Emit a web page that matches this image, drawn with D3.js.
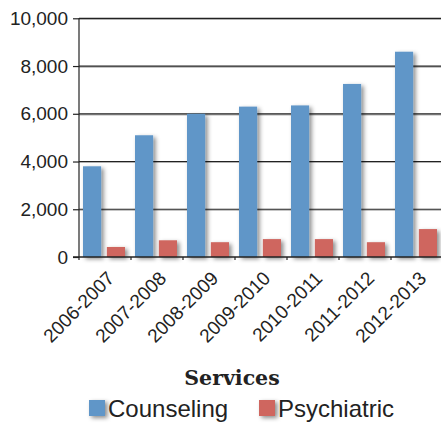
<!DOCTYPE html>
<html><head><meta charset="utf-8">
<script src="https://cdn.jsdelivr.net/npm/d3@7/dist/d3.min.js"></script>
<style>body{margin:0;background:#fff;}svg{display:block;}</style>
</head><body>
<script>
const categories = ["2006-2007","2007-2008","2008-2009","2009-2010","2010-2011","2011-2012","2012-2013"];
const seriesNames = ["Counseling","Psychiatric"];
const counseling = [3800,5100,6000,6300,6350,7250,8600];
const psychiatric = [420,700,620,750,750,620,1170];
const yTicks = [0,2000,4000,6000,8000,10000];
const colors = ["#6096C8","#CF665F"];

const W=441,H=423;
const svg=d3.select("body").append("svg").attr("width",W).attr("height",H);
const defs=svg.append("defs");
const f=defs.append("filter").attr("id","sh").attr("x","-30%").attr("y","-30%").attr("width","180%").attr("height","180%");
f.append("feDropShadow").attr("dx",2.5).attr("dy",2).attr("stdDeviation",2).attr("flood-color","#000").attr("flood-opacity",0.45);
const f2=defs.append("filter").attr("id","sh2").attr("filterUnits","userSpaceOnUse").attr("x",0).attr("y",0).attr("width",W).attr("height",H);
f2.append("feDropShadow").attr("dx",0).attr("dy",1).attr("stdDeviation",0.7).attr("flood-color","#000").attr("flood-opacity",0.3);

const x0=79, x1=443, yTop=18.3, yBot=257;
const x=d3.scaleBand().domain(categories).range([x0,x1]).paddingInner(0).paddingOuter(0);
const xs=d3.scaleBand().domain(seriesNames).range([4,x.bandwidth()-6]).paddingInner(0.24);
const y=d3.scaleLinear().domain([0,10000]).range([yBot,yTop]);

// gridlines
const g=svg.append("g").attr("filter","url(#sh2)");
g.selectAll("line.grid").data(yTicks.filter(d=>d>0)).join("line")
 .attr("x1",x0).attr("x2",W).attr("y1",d=>y(d)).attr("y2",d=>y(d))
 .attr("stroke","#222").attr("stroke-width",1.2);

// y axis
const ya=svg.append("g").attr("transform",`translate(${x0},0)`)
 .call(d3.axisLeft(y).tickValues(yTicks).tickSize(6).tickPadding(5).tickFormat(d3.format(",")));
ya.select(".domain").remove();
ya.selectAll(".tick line").attr("stroke","#222").attr("stroke-width",1.2);
ya.selectAll("text").attr("font-family","Liberation Sans, Arial, sans-serif").attr("font-size",19).attr("fill","#222");

// bars
const data=categories.map((c,i)=>({c,vals:[counseling[i],psychiatric[i]]}));
const bg=svg.append("g");
data.forEach(d=>{
  d.vals.forEach((v,j)=>{
    bg.append("rect").attr("x",x(d.c)+xs(seriesNames[j])).attr("width",xs.bandwidth())
      .attr("y",y(v)).attr("height",yBot-y(v)).attr("fill",colors[j]).attr("filter","url(#sh)");
  });
});

// axes lines
svg.append("line").attr("x1",x0).attr("x2",x0).attr("y1",yTop).attr("y2",yBot).attr("stroke","#222").attr("stroke-width",1.2);
svg.append("line").attr("x1",x0-6).attr("x2",W).attr("y1",yBot).attr("y2",yBot).attr("stroke","#222").attr("stroke-width",1.5);
// x ticks at boundaries
svg.selectAll("line.xt").data(categories).join("line")
 .attr("x1",d=>x(d)).attr("x2",d=>x(d)).attr("y1",yBot).attr("y2",yBot+3).attr("stroke","#222").attr("stroke-width",1.2);

// x labels
svg.selectAll("text.xl").data(categories).join("text")
 .attr("transform",d=>`translate(${x(d)+x.bandwidth()/2+1},${yBot+13}) rotate(-45)`)
 .attr("text-anchor","end").attr("dy","0.7em")
 .attr("font-family","Liberation Sans, Arial, sans-serif").attr("font-size",19).attr("fill","#222")
 .text(d=>d);

// legend
svg.append("text").attr("x",232).attr("y",385).attr("text-anchor","middle")
 .attr("font-family","DejaVu Serif, serif").attr("font-weight","bold").attr("font-size",20.5).attr("fill","#222").text("Services");
const legX=[89,259];
seriesNames.forEach((s,j)=>{
  svg.append("rect").attr("x",legX[j]).attr("y",400).attr("width",16).attr("height",16).attr("fill",colors[j]).attr("filter","url(#sh)");
  svg.append("text").attr("x",legX[j]+19).attr("y",417).attr("font-family","Liberation Sans, Arial, sans-serif")
   .attr("font-size",24).attr("fill","#222").text(s);
});
</script>
</body></html>
